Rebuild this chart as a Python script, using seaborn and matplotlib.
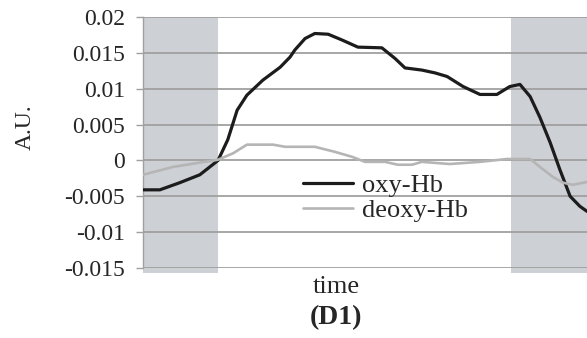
import numpy as np
import pandas as pd
import matplotlib
matplotlib.use("Agg")
import matplotlib.pyplot as plt
import seaborn as sns

# ---- data ----
oxy_t = [0, 3.8, 8.3, 12.8, 16.9, 19.1, 21.2, 23.4, 27.0, 30.9, 33.1, 34.2, 36.5, 38.7,
         41.7, 44.8, 48.4, 53.8, 56.8, 59.0, 62.8, 65.8, 68.5, 72.1, 75.9, 79.7, 82.6,
         84.9, 87.2, 89.4, 91.7, 93.9, 96.2, 98.4, 100]
oxy_v = [-0.0041, -0.0041, -0.0031, -0.0020, 0.0000, 0.0029, 0.0070, 0.0091, 0.0112, 0.0130,
         0.0144, 0.0154, 0.0170, 0.0177, 0.0176, 0.0168, 0.0158, 0.0157, 0.0142, 0.0129,
         0.0126, 0.0122, 0.0117, 0.0103, 0.0092, 0.0092, 0.0103, 0.0106, 0.0089, 0.0060,
         0.0025, -0.0013, -0.0050, -0.0064, -0.0071]
deoxy_t = [0, 6.8, 16.9, 20.3, 23.4, 29.3, 32.0, 38.7, 43.2, 47.1, 50.0, 54.5, 57.4, 60.6,
           62.8, 69.1, 75.9, 82.0, 87.2, 89.4, 92.3, 94.6, 96.8, 100]
deoxy_v = [-0.0020, -0.0009, 0.0001, 0.0010, 0.0022, 0.0022, 0.0019, 0.0019, 0.0012, 0.0005,
           -0.0002, -0.0002, -0.0006, -0.0006, -0.0002, -0.0005, -0.0002, 0.0002, 0.0002,
           -0.0009, -0.0023, -0.0031, -0.0034, -0.0030]
series_names = ["oxy-Hb", "deoxy-Hb"]
shade_spans = [(0, 16.9), (82.9, 100)]
y_ticks = [0.02, 0.015, 0.01, 0.005, 0, -0.005, -0.01, -0.015]
y_tick_labels = ["0.02", "0.015", "0.01", "0.005", "0", "-0.005", "-0.01", "-0.015"]

df = pd.concat([
    pd.DataFrame({"time": oxy_t, "value": oxy_v, "series": series_names[0]}),
    pd.DataFrame({"time": deoxy_t, "value": deoxy_v, "series": series_names[1]}),
])

sns.set_theme(style="white")
plt.rcParams["font.family"] = ["Liberation Serif", "DejaVu Serif"]

fig = plt.figure(figsize=(5.87, 3.38), dpi=100)
ax = fig.add_axes([143 / 587, 70 / 338, 444 / 587, 251 / 338])

for a, b in shade_spans:
    ax.axvspan(a, b, ymin=-0.02, ymax=1.0, color="#cdd0d5", zorder=0, lw=0, clip_on=False)

grid_col = "#a0a0a0"
for y in y_ticks:
    ax.axhline(y, color=grid_col, lw=1.3, zorder=1)

sns.lineplot(data=df, x="time", y="value", hue="series",
             palette={"oxy-Hb": "#1c1c1c", "deoxy-Hb": "#b5b5b5"},
             ax=ax, legend=False, zorder=3, estimator=None, sort=False)
lines = ax.get_lines()[-2:]
lines[0].set_linewidth(2.3)
lines[1].set_linewidth(1.9)

ax.set_xlim(0, 100)
ax.set_ylim(-0.015, 0.02)
ax.set_yticks(y_ticks)
ax.set_yticklabels(y_tick_labels, fontsize=17)
ax.set_xticks([])
ax.tick_params(axis="y", length=5, width=1.0, color=grid_col, pad=8, left=True)
for s in ["top", "right", "bottom"]:
    ax.spines[s].set_visible(False)
ax.spines["left"].set_color(grid_col)
ax.spines["left"].set_linewidth(1.0)
ax.set_xlabel("")
ax.set_ylabel("")

fig.text(25 / 587, 1 - 127 / 338, "A.U.", rotation=90, ha="center", va="center", fontsize=17)
fig.text(336 / 587, 1 - 287 / 338, "time", ha="center", va="center", fontsize=19)
fig.text(336 / 587, 1 - 318 / 338, "(D1)", ha="center", va="center", fontsize=20, fontweight="bold")

leg = ax.legend(lines, series_names, loc="center left",
                bbox_to_anchor=(303 / 587, 1 - 198 / 338), bbox_transform=fig.transFigure,
                frameon=False, fontsize=19, handlelength=1.9, handletextpad=0.34,
                labelspacing=0.05, borderaxespad=0, borderpad=0)

fig.savefig("out.png", dpi=100)
